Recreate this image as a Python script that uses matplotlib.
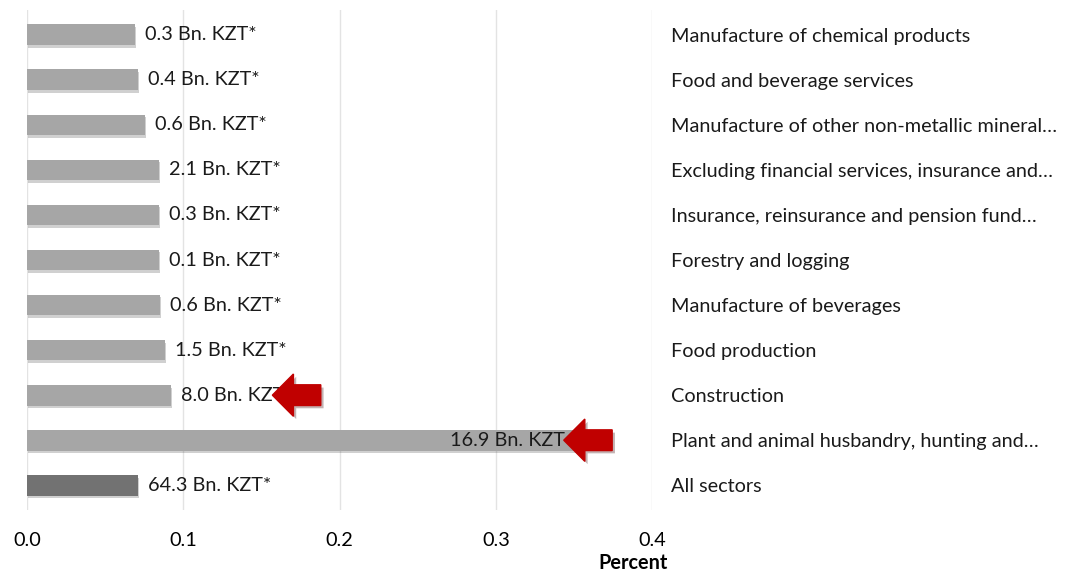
import matplotlib.pyplot as plt
import matplotlib.patheffects as pe
from matplotlib.patches import FancyArrow
import numpy as np

# Sectors top to bottom, share in percent and the label next to each bar
sectors = [
    "Manufacture of chemical products",
    "Food and beverage services",
    "Manufacture of other non-metallic mineral…",
    "Excluding financial services, insurance and…",
    "Insurance, reinsurance and pension fund…",
    "Forestry and logging",
    "Manufacture of beverages",
    "Food production",
    "Construction",
    "Plant and animal husbandry, hunting and…",
    "All sectors",
]
values = [0.069, 0.071, 0.0755, 0.0845, 0.0845, 0.0845, 0.085, 0.088, 0.092, 0.353, 0.071]
amounts = [
    "0.3 Bn. KZT*", "0.4 Bn. KZT*", "0.6 Bn. KZT*", "2.1 Bn. KZT*", "0.3 Bn. KZT*",
    "0.1 Bn. KZT*", "0.6 Bn. KZT*", "1.5 Bn. KZT*", "8.0 Bn. KZT", "16.9 Bn. KZT",
    "64.3 Bn. KZT*",
]
highlighted = ["Construction", "Plant and animal husbandry, hunting and…"]
xticks = [0.0, 0.1, 0.2, 0.3, 0.4]

plt.rcParams['font.family'] = ['Lato', 'DejaVu Sans']
fs = 14.3

fig = plt.figure(figsize=(10.82, 5.75), dpi=100)
ax = fig.add_axes([0.025, 0.113, 0.5776, 0.8696])

y = np.arange(len(sectors))
colors = ['#a6a6a6'] * (len(sectors) - 1) + ['#727272']
shadow = [pe.SimplePatchShadow(offset=(1, -2), alpha=0.25, shadow_rgbFace='#444444'), pe.Normal()]
bars = ax.barh(y, values, height=0.46, color=colors, zorder=2)
for b in bars:
    b.set_path_effects(shadow)

ax.set_xlim(0, 0.4)
ax.set_ylim(len(sectors) - 0.45, -0.55)

# Value labels: outside the bar, except the long one which sits inside
for yi, v, txt, name in zip(y, values, amounts, sectors):
    if v > 0.3:
        ax.text(v - 0.009, yi, txt, ha='right', va='center', fontsize=fs, color='#1a1a1a', zorder=3)
    else:
        ax.text(v + 0.0065, yi, txt, ha='left', va='center', fontsize=fs, color='#1a1a1a', zorder=3)

# Red callout arrows pointing at the highlighted sectors
arrow_shadow = [pe.SimplePatchShadow(offset=(2, -2), alpha=0.3), pe.Normal()]
for name in highlighted:
    i = sectors.index(name)
    v = values[i]
    tip = v + 0.065 if v < 0.3 else v - 0.0095
    arr = FancyArrow(tip + 0.031, y[i], -0.031, 0, width=0.46, head_width=0.94,
                     head_length=0.0135, length_includes_head=True,
                     color='#c00000', zorder=4)
    arr.set_path_effects(arrow_shadow)
    ax.add_patch(arr)

ax.set_xticks(xticks)
ax.set_xticklabels([f"{t:.1f}" for t in xticks])
ax.tick_params(axis='x', length=0, pad=16, labelsize=fs)
ax.xaxis.grid(True, color='#e3e3e3', linewidth=1, zorder=0)
ax.set_axisbelow(True)

ax.yaxis.tick_right()
ax.set_yticks(y)
ax.set_yticklabels(sectors, fontsize=fs, color='#1a1a1a')
ax.tick_params(axis='y', length=0, pad=14)

for s in ax.spines.values():
    s.set_visible(False)

fig.text(0.585, 0.004, "Percent", ha='center', va='bottom', fontsize=fs, fontweight='bold')

fig.savefig("out.png", dpi=100)
